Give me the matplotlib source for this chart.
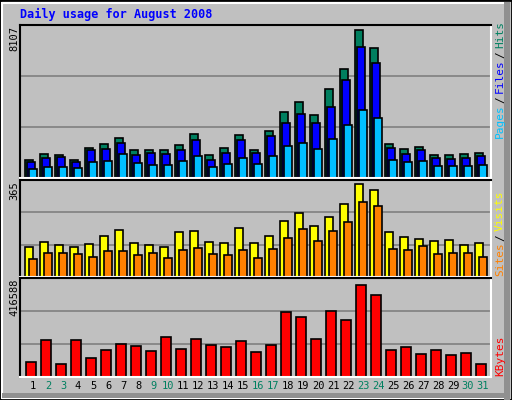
import matplotlib
matplotlib.use("Agg")
import matplotlib.pyplot as plt
from matplotlib.patches import Rectangle

days = list(range(1, 32))
weekend = [2, 3, 9, 10, 16, 17, 23, 24, 30, 31]
hits = [967,1289,1235,967,1627,1826,2148,1504,1504,1504,1772,2363,1235,1627,2309,1504,
        2524,3544,4081,3383,4779,5853,7894,6981,1826,1557,1665,1235,1235,1289,1343]
files = [859,1074,1128,859,1504,1557,1880,1235,1343,1289,1504,2041,967,1343,2041,1343,
         2255,2954,3437,2954,3813,5263,7035,6176,1611,1289,1504,1074,1020,1074,1181]
pages = [483,591,591,537,859,913,1289,806,698,698,913,1181,591,752,1074,752,
         1181,1718,1880,1557,2094,2846,3652,3222,967,859,913,644,644,644,698]
visits = [112,131,119,112,123,153,176,127,119,112,169,172,131,127,184,127,
          153,210,241,191,226,275,351,328,169,150,142,134,138,119,127]
sites = [66,89,89,85,77,96,96,81,89,70,100,108,85,81,100,70,
         104,146,180,134,172,207,283,267,104,100,115,85,89,89,77]
kbytes = [62853,159325,58468,159325,80394,115474,141785,133015,111089,172481,119859,163710,
          137400,128630,154940,106704,137400,282108,260183,163710,286493,247027,400506,356655,
          115474,128630,97934,115474,93549,102319,58468]
max_hits, max_visits, max_kb = 8107, 365, 416588

BG = "#C0C0C0"
W, H = 512, 400
fig = plt.figure(figsize=(W/100, H/100), dpi=100, facecolor=BG)
mono = "DejaVu Sans Mono"

def px_axes(x0, y0, x1, y1):
    return fig.add_axes([x0/W, 1-y1/H, (x1-x0)/W, (y1-y0)/H])

fig.patches.append(Rectangle((0, 0), 1, 1, transform=fig.transFigure, fill=False,
                             edgecolor="black", lw=2))
fig.patches.append(Rectangle((2/W, 2/H), 1-5/W, 1-5/H, transform=fig.transFigure, fill=False,
                             edgecolor="white", lw=1.5))
fig.patches.append(Rectangle(((W-8)/W, 0), 6/W, 1-2/H, transform=fig.transFigure,
                             facecolor="#909090", edgecolor="none"))
fig.patches.append(Rectangle((2/W, 2/H), 1-4/W, 5/H, transform=fig.transFigure,
                             facecolor="#909090", edgecolor="none"))

u = 1/15.0
xl = (1 + (20-25)/15, 1 + (491-25)/15)

def setup(ax, ymax):
    ax.set_facecolor(BG)
    ax.set_xlim(*xl)
    ax.set_ylim(0, ymax)
    ax.set_xticks([]); ax.set_yticks([])
    for y in (ymax/3, 2*ymax/3):
        ax.axhline(y, color="#808080", lw=1.2, zorder=0)
    for s in ("top", "left"):
        ax.spines[s].set_color("black"); ax.spines[s].set_linewidth(1.5)
    for s in ("bottom", "right"):
        ax.spines[s].set_color("white"); ax.spines[s].set_linewidth(1.5)

a1 = px_axes(20, 25, 491, 178)
setup(a1, max_hits*1.01)
for d, h, f, p in zip(days, hits, files, pages):
    a1.bar(d, h, width=8*u, align="edge", color="#007F5F", edgecolor="black", lw=1.2)
    a1.bar(d+2*u, f, width=8*u, align="edge", color="#0000FF", edgecolor="black", lw=1.2)
    a1.bar(d+4*u, p, width=8*u, align="edge", color="#00C0FF", edgecolor="black", lw=1.2)

a2 = px_axes(20, 180, 491, 277)
setup(a2, max_visits)
for d, v, s in zip(days, visits, sites):
    a2.bar(d, v, width=8*u, align="edge", color="#FFFF00", edgecolor="black", lw=1.2)
    a2.bar(d+4*u, s, width=8*u, align="edge", color="#FF8000", edgecolor="black", lw=1.2)

a3 = px_axes(20, 278, 491, 377)
setup(a3, max_kb*1.03)
for d, k in zip(days, kbytes):
    a3.bar(d+1*u, k, width=10*u, align="edge", color="#FF0000", edgecolor="black", lw=1.2)
for d in days:
    a3.text(d+8*u, -0.04, str(d), transform=a3.get_xaxis_transform(), ha="center", va="top",
            fontsize=7.5, family=mono, color="#008060" if d in weekend else "black")

fig.text(20/W, 1-14/H, "Daily usage for August 2008", color="#0000FF", fontsize=8.5,
         family=mono, weight="bold", va="center", ha="left")

for y, lab in ((26, "8107"), (181, "365"), (279, "416588")):
    fig.text(14/W, 1-y/H, lab, rotation=90, fontsize=7.5, family=mono, ha="center", va="top")

def vlabel(parts, ybottom):
    y = ybottom
    for txt, col in parts:
        fig.text(500/W, 1-y/H, txt, rotation=90, fontsize=8, family=mono, color=col,
                 ha="center", va="bottom")
        y -= len(txt)*6.2 + 4
vlabel([("Pages", "#00C0FF"), ("/", "black"), ("Files", "#0000FF"), ("/", "black"),
        ("Hits", "#008060")], 138)
vlabel([("Sites", "#FF8000"), ("/", "black"), ("Visits", "#FFFF00")], 276)
vlabel([("KBytes", "#FF0000")], 376)

fig.savefig("out.png", dpi=100, facecolor=BG)
